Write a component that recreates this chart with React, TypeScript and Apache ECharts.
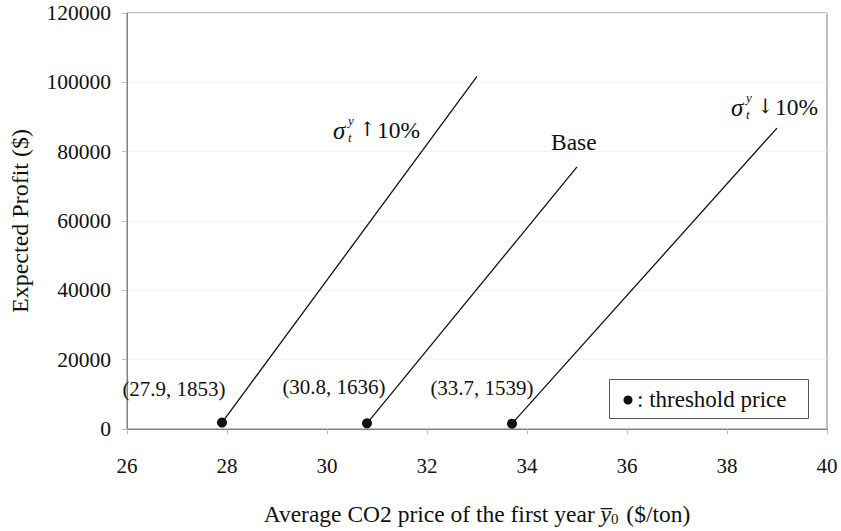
import React, { useEffect, useRef } from "react";
import * as echarts from "echarts";

const FONT = "'Liberation Serif', 'Times New Roman', serif";

const xTicks = { min: 26, max: 40, interval: 2 };
const yTicks = { min: 0, max: 120000, interval: 20000 };

const seriesNames = ["sigma up 10%", "Base", "sigma down 10%"];
const thresholdX = [27.9, 30.8, 33.7];
const thresholdY = [1853, 1636, 1539];
const endX = [33.0, 35.0, 39.0];
const endY = [101700, 75600, 86800];
const labelOffsets: [number, number][] = [
  [-48, -34],
  [-33, -36],
  [-30, -36],
];

function sigmaLabel(x: number, y: number, arrow: string) {
  return {
    type: "group",
    x,
    y,
    children: [
      { type: "text", x: 0, y: 0, style: { text: "σ", font: `italic 25px ${FONT}`, fill: "#111", textVerticalAlign: "middle" } },
      { type: "text", x: 15, y: -10, style: { text: "y", font: `italic 13px ${FONT}`, fill: "#111", textVerticalAlign: "middle" } },
      { type: "text", x: 15, y: 7, style: { text: "t", font: `italic 13px ${FONT}`, fill: "#111", textVerticalAlign: "middle" } },
      { type: "text", x: 26, y: -1, style: { text: arrow, font: `20px 'DejaVu Serif', serif`, fill: "#111", textVerticalAlign: "middle" } },
      { type: "text", x: 44, y: 0, style: { text: "10%", font: `23.5px ${FONT}`, fill: "#111", textVerticalAlign: "middle" } },
    ],
  };
}

export default function App() {
  const ref = useRef<HTMLDivElement>(null);
  useEffect(() => {
    const chart = echarts.init(ref.current!, null, { renderer: "svg" });
    const series = seriesNames.map((name, i) => ({
      name,
      type: "line",
      showSymbol: true,
      lineStyle: { color: "#111", width: 1.3 },
      itemStyle: { color: "#111" },
      data: [
        {
          value: [thresholdX[i], thresholdY[i]],
          symbol: "circle",
          symbolSize: 10,
          label: {
            show: true,
            position: "inside",
            offset: labelOffsets[i],
            formatter: `(${thresholdX[i].toFixed(1)}, ${thresholdY[i]})`,
            fontFamily: FONT,
            fontSize: 21,
            color: "#111",
          },
        },
        { value: [endX[i], endY[i]], symbol: "none" },
      ],
    }));
    chart.setOption({
      animation: false,
      backgroundColor: "#fff",
      textStyle: { fontFamily: FONT },
      grid: { left: 118, right: 14, top: 13, bottom: 99, show: true, borderColor: "#808080", borderWidth: 1 },
      xAxis: {
        type: "value",
        min: xTicks.min,
        max: xTicks.max,
        interval: xTicks.interval,
        axisLine: { lineStyle: { color: "#808080" } },
        axisTick: { show: true, inside: false, length: 5, lineStyle: { color: "#bbb" } },
        axisLabel: { color: "#111", fontFamily: FONT, fontSize: 21, margin: 26, formatter: (v: number) => String(v) },
        splitLine: { show: false },
        name: "Average CO2 price of the first year {y|y\u0305}{s|0} ($/ton)",
        nameLocation: "middle",
        nameGap: 72,
        nameTextStyle: {
          color: "#111",
          fontFamily: FONT,
          fontSize: 23.5,
          rich: {
            y: { fontFamily: FONT, fontSize: 23.5, fontStyle: "italic", color: "#111" },
            s: { fontFamily: FONT, fontSize: 15, color: "#111", padding: [10, 2, 0, 0] },
          },
        },
      },
      yAxis: {
        type: "value",
        min: yTicks.min,
        max: yTicks.max,
        interval: yTicks.interval,
        axisLine: { show: true, lineStyle: { color: "#808080" } },
        axisTick: { show: true, inside: false, length: 5, lineStyle: { color: "#bbb" } },
        axisLabel: { color: "#111", fontFamily: FONT, fontSize: 21.5, margin: 16, formatter: (v: number) => String(v) },
        splitLine: { show: true, lineStyle: { color: "#f2f2f2" } },
        name: "Expected Profit ($)",
        nameLocation: "middle",
        nameGap: 95,
        nameTextStyle: { color: "#111", fontFamily: FONT, fontSize: 24 },
      },
      series,
      graphic: [
        sigmaLabel(333, 130, "↑"),
        sigmaLabel(731, 107, "↓"),
        { type: "text", x: 551, y: 142, style: { text: "Base", font: `23.5px ${FONT}`, fill: "#111", textVerticalAlign: "middle" } },
        { type: "rect", shape: { x: 609.5, y: 379.5, width: 199, height: 39 }, style: { fill: "#fff", stroke: "#555", lineWidth: 1 } },
        { type: "circle", shape: { cx: 628, cy: 400, r: 4.5 }, style: { fill: "#111" } },
        { type: "text", x: 637, y: 399, style: { text: ": threshold price", font: `23px ${FONT}`, fill: "#111", textVerticalAlign: "middle" } },
      ],
    });
    return () => chart.dispose();
  }, []);
  return <div ref={ref} style={{ position: "fixed", left: 0, top: 0, width: 841, height: 531 }} />;
}
